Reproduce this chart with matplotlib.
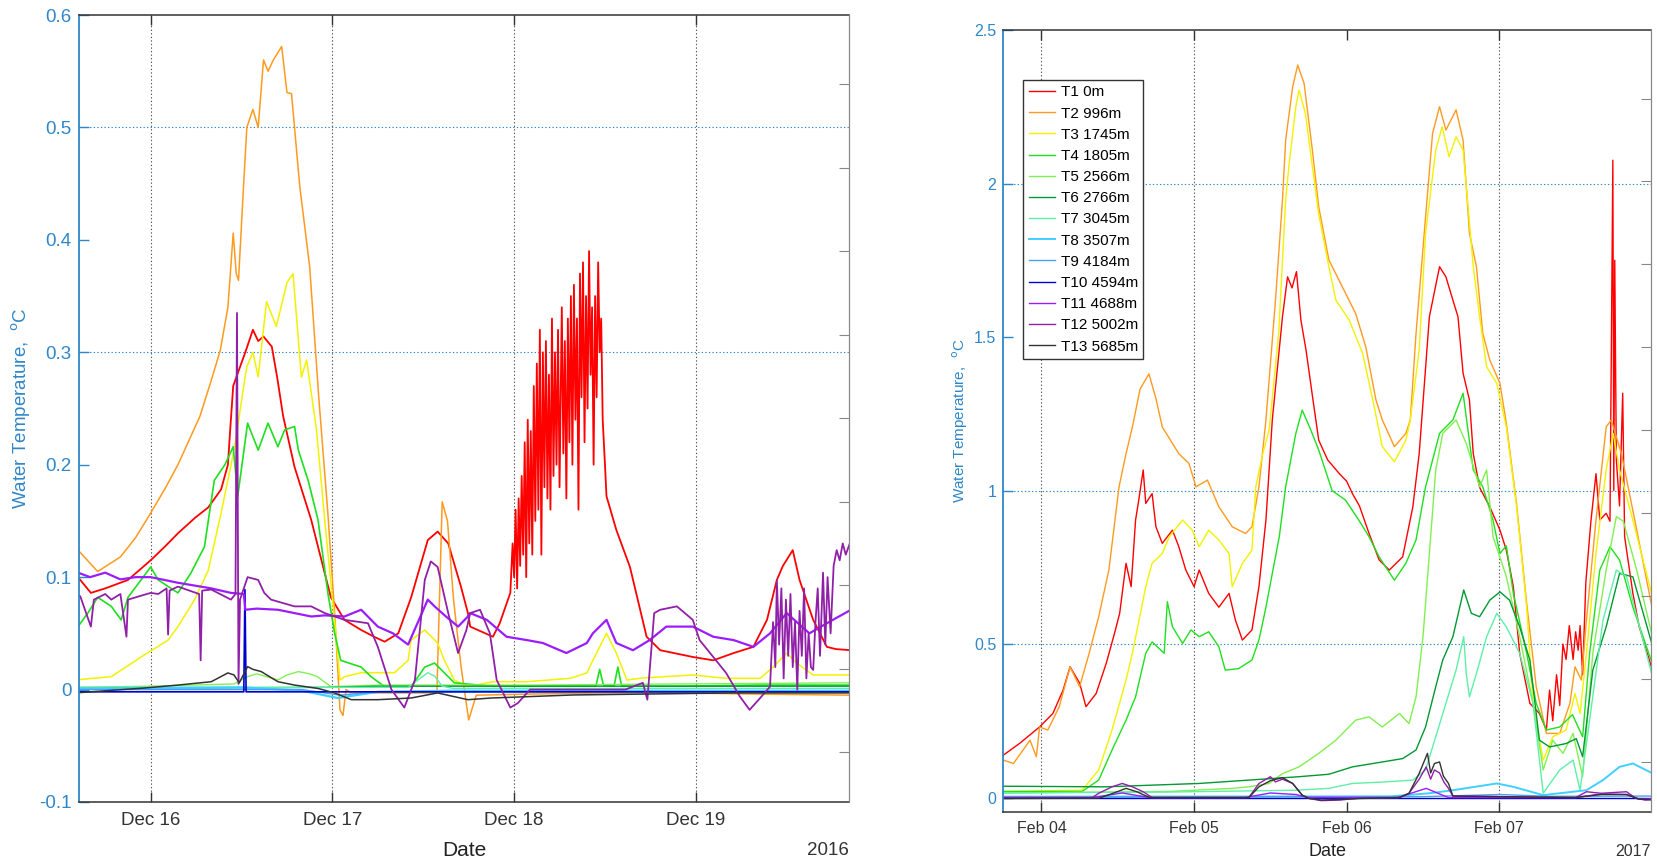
import numpy as np
import pandas as pd
import matplotlib
matplotlib.use("Agg")
import matplotlib.pyplot as plt
import matplotlib.dates as mdates

plt.rcParams['font.family'] = ['Liberation Sans', 'DejaVu Sans']

# ---------------- labels / colours ----------------
labels = ['T1 0m', 'T2 996m', 'T3 1745m', 'T4 1805m', 'T5 2566m', 'T6 2766m',
          'T7 3045m', 'T8 3507m', 'T9 4184m', 'T10 4594m', 'T11 4688m',
          'T12 5002m', 'T13 5685m']
colors = ['#ff0000', '#ff9a1f', '#f2f200', '#1ee01e', '#80f050', '#009933',
          '#5cf0a8', '#40d0ff', '#4aa0f0', '#0000cc', '#9b1cff', '#9020a8', '#333333']

# ---------------- Panel A: Dec 2016 (hours after 2016-12-16 00:00) ----------------
a_t1_h = [-10, -9.6, -7.9, -6, -3, 0, 2, 3.6, 5.9, 7.6, 9.3, 10.2, 10.5, 10.9, 11.8, 12.5, 13.5,
          14.2, 14.9, 16, 16.7, 17.5, 19, 21.2, 23.8, 25.6, 27.8, 29.5, 30.9, 32.7, 34.4, 36.6,
          37.9, 39.3, 41, 41.9, 42.2, 45.2, 46.1, 47.5,
          47.8, 48.0, 48.2, 48.4, 48.6, 48.8, 49.0, 49.2, 49.4, 49.6, 49.8, 50.0, 50.2, 50.4,
          50.6, 50.8, 51.0, 51.2, 51.4, 51.6, 51.8, 52.0, 52.2, 52.4, 52.6, 52.8, 53.0, 53.2,
          53.4, 53.6, 53.8, 54.0, 54.3, 54.5, 54.7, 54.9, 55.1, 55.3, 55.5, 55.7, 55.9, 56.1,
          56.3, 56.5, 56.7, 56.9, 57.1, 57.3, 57.5, 57.7, 57.9, 58.1, 58.3, 58.5, 58.7, 58.9,
          59.1, 59.3, 59.5, 59.7, 60.0, 60.2,
          61.5, 63.3, 65.5, 67.3, 71.6, 74.3, 77, 79.6, 81.4, 82.7, 83.5, 84.8, 85.7, 87.5,
          89.3, 90.5, 92.5]
a_t1_v = [0.10, 0.10, 0.086, 0.09, 0.0975, 0.115, 0.128, 0.139, 0.153, 0.162, 0.178, 0.20, 0.231,
          0.27, 0.287, 0.30, 0.32, 0.31, 0.314, 0.305, 0.278, 0.243, 0.198, 0.151, 0.082, 0.062,
          0.053, 0.047, 0.0426, 0.05, 0.082, 0.133, 0.1405, 0.13, 0.091, 0.068, 0.056, 0.047,
          0.059, 0.086,
          0.13, 0.10, 0.16, 0.09, 0.17, 0.11, 0.19, 0.12, 0.22, 0.10, 0.24, 0.13, 0.23, 0.12,
          0.27, 0.15, 0.29, 0.16, 0.32, 0.12, 0.30, 0.18, 0.31, 0.17, 0.28, 0.16, 0.33, 0.19,
          0.30, 0.20, 0.32, 0.18, 0.34, 0.21, 0.31, 0.17, 0.33, 0.22, 0.35, 0.20, 0.36, 0.24,
          0.33, 0.16, 0.37, 0.26, 0.38, 0.22, 0.35, 0.25, 0.39, 0.28, 0.34, 0.20, 0.35, 0.26,
          0.38, 0.30, 0.33, 0.24, 0.20, 0.172,
          0.142, 0.109, 0.047, 0.035, 0.029, 0.026, 0.0325, 0.038, 0.062, 0.0975, 0.11, 0.124,
          0.0975, 0.062, 0.038, 0.036, 0.035]

a_t2_h = [-10, -7, -4, -2, 0, 2, 3.6, 6.5, 8, 9.2, 10.2, 10.9, 11.3, 11.6, 12.2, 12.7, 13.5, 14.2,
          14.9, 15.5, 16.2, 17.3, 18, 18.6, 19.7, 21, 22.2, 23.4, 24.3, 25.0, 25.4, 25.8, 26.5,
          33, 37.8, 38.5, 39.2, 40, 41, 42, 43, 50, 60, 70, 80, 92.5]
a_t2_v = [0.127, 0.105, 0.118, 0.135, 0.157, 0.18, 0.20, 0.243, 0.275, 0.302, 0.34, 0.406, 0.37,
          0.364, 0.44, 0.50, 0.516, 0.50, 0.56, 0.55, 0.56, 0.572, 0.531, 0.53, 0.447, 0.376,
          0.26, 0.157, 0.068, -0.018, -0.023, 0.0, -0.003, -0.003, -0.003, 0.167, 0.15, 0.08,
          0.02, -0.027, -0.005, -0.004, -0.003, -0.003, -0.004, -0.005]

a_t3_h = [-10, -5.2, -0.8, 2.3, 3.6, 5.8, 7.6, 9.3, 11.1, 12.4, 12.7, 13.5, 14.2, 15.3, 16.6, 18,
          18.8, 19.9, 20.6, 21.9, 23, 24.3, 25, 25.6, 27.8, 32.2, 34, 34.4, 36.2, 37.9, 38.8,
          40.1, 41.9, 45.2, 49.7, 55.4, 57.6, 58.4, 60.2, 61.5, 62.9, 65, 71.6, 76, 80.5, 82.2,
          84, 85.3, 87.5, 92.5]
a_t3_v = [0.0085, 0.0115, 0.031, 0.044, 0.056, 0.08, 0.106, 0.157, 0.216, 0.275, 0.287, 0.30,
          0.278, 0.345, 0.323, 0.362, 0.37, 0.278, 0.293, 0.231, 0.15, 0.06, 0.0085, 0.0115,
          0.015, 0.015, 0.026, 0.044, 0.053, 0.0413, 0.026, 0.0085, 0.0026, 0.007, 0.007, 0.01,
          0.0148, 0.026, 0.05, 0.0325, 0.0085, 0.0103, 0.013, 0.01, 0.01, 0.02, 0.0325, 0.0236,
          0.013, 0.013]

a_t4_h = [-10, -9.6, -8.3, -7, -5.2, -3.9, -3, 0, 1, 3.6, 5.3, 7.1, 8.4, 9.8, 10.9, 11.5, 12.8,
          14.2, 15.5, 16.8, 17.7, 19, 19.5, 20.8, 22.1, 23.4, 24.3, 25.1, 27.8, 29.1, 30.9, 34.4,
          36.2, 37.5, 38.8, 40.1, 45, 58.8, 59.3, 59.8, 61.2, 61.7, 62.2, 70, 80, 92.5]
a_t4_v = [0.056, 0.056, 0.068, 0.082, 0.074, 0.062, 0.082, 0.109, 0.0975, 0.086, 0.1035, 0.127,
          0.186, 0.20, 0.216, 0.172, 0.237, 0.213, 0.237, 0.216, 0.231, 0.234, 0.213, 0.186,
          0.151, 0.086, 0.05, 0.026, 0.02, 0.0115, 0.0026, 0.0026, 0.02, 0.0236, 0.0148, 0.006,
          0.003, 0.003, 0.018, 0.004, 0.003, 0.02, 0.003, 0.003, 0.004, 0.004]

a_t5_h = [-10, 0, 11, 12.8, 14, 16.8, 18, 19.5, 21, 22, 23.8, 30, 50, 70, 92.5]
a_t5_v = [0.002, 0.003, 0.005, 0.0115, 0.014, 0.0085, 0.013, 0.016, 0.014, 0.0115, 0.0026, 0.004,
          0.004, 0.005, 0.006]
a_t6_h = [-10, 24, 30, 92.5]
a_t6_v = [0.001, 0.002, 0.003, 0.003]
a_t7_h = [-10, 20, 34, 36.6, 37.5, 38.5, 40, 92.5]
a_t7_v = [0.002, 0.002, 0.002, 0.015, 0.012, 0.003, 0.001, 0.001]
a_t8_h = [-10, 12, 20, 24.7, 30, 40, 92.5]
a_t8_v = [0.001, 0.002, -0.001, -0.0075, -0.002, -0.001, -0.001]
a_t9_h = [-10, 20, 25, 30, 92.5]
a_t9_v = [0.0, 0.0, -0.005, -0.002, -0.002]
a_t10_h = [-10, 12.3, 12.45, 12.6, 92.5]
a_t10_v = [-0.002, -0.002, 0.089, -0.002, -0.002]

a_t11_h = [-10, -8, -6, -4, -2, 0, 3.6, 8, 10.6, 12.3, 12.5, 14, 16.8, 19, 21.2, 23, 25.6, 27.8,
           30, 32, 34, 36.6, 37.5, 39, 40.6, 41.9, 42.2, 44.4, 47, 49.7, 51.8, 54.9, 57.6, 58.4,
           60.2, 61.5, 63.7, 65.9, 68.1, 71.6, 74.3, 77, 79.6, 81.8, 84, 87, 89.3, 92.5]
a_t11_v = [0.105, 0.10, 0.104, 0.098, 0.10, 0.10, 0.095, 0.09, 0.086, 0.085, 0.071, 0.072, 0.071,
           0.068, 0.065, 0.066, 0.065, 0.071, 0.056, 0.05, 0.04, 0.08, 0.074, 0.065, 0.056,
           0.065, 0.068, 0.062, 0.047, 0.044, 0.0414, 0.0325, 0.0414, 0.05, 0.062, 0.0414, 0.035,
           0.044, 0.056, 0.056, 0.047, 0.044, 0.038, 0.05, 0.068, 0.05, 0.059, 0.071]

a_t12_h = [-10, -9.3, -7.9, -7.5, -6, -5.2, -4, -3.2, -3, 0, 1, 2.1, 2.3, 2.5, 3.6, 6.4, 6.6,
           6.8, 8, 10.6, 11.2, 11.4, 11.6, 11.8, 12.8, 14.2, 15, 15.9, 19, 21.2, 23, 25.6, 28.7,
           30, 31.8, 33.5, 34.9, 36.2, 37, 37.9, 39.3, 40.6, 41.7, 42.2, 43.5, 44.8, 45.7, 47.5,
           48.5, 50.1, 55, 62.7, 65, 65.6, 66.5, 67.3, 69.5, 71.6, 72.5, 74.3, 76, 77.8, 79.1,
           80.3, 81.8, 82.2, 82.5, 82.7, 83.0, 83.3, 83.6, 83.9, 84.2, 84.5, 84.8, 85.1, 85.4,
           85.7, 86.0, 86.3, 86.6, 86.9, 87.2, 87.5, 87.8, 88.1, 88.4, 88.8, 89.1, 89.4, 89.8,
           90.2, 90.6, 91.0, 91.4, 91.8, 92.5]
a_t12_v = [0.085, 0.083, 0.056, 0.08, 0.085, 0.08, 0.085, 0.047, 0.08, 0.086, 0.085, 0.09, 0.049,
           0.088, 0.0916, 0.085, 0.026, 0.088, 0.089, 0.08, 0.085, 0.335, 0.005, 0.08, 0.10,
           0.0975, 0.086, 0.08, 0.074, 0.074, 0.068, 0.062, 0.059, 0.038, 0.0, -0.016, 0.0085,
           0.0975, 0.114, 0.109, 0.068, 0.0325, 0.053, 0.068, 0.071, 0.05, 0.0085, -0.016,
           -0.012, 0.0, 0.0, 0.0, 0.006, -0.009, 0.068, 0.071, 0.074, 0.062, 0.044, 0.029,
           0.0148, -0.006, -0.018, -0.009, 0.0026, 0.06, 0.02, 0.097, 0.04, 0.09, 0.01, 0.08,
           0.03, 0.085, 0.02, 0.06, 0.0, 0.07, 0.03, 0.09, 0.01, 0.05, 0.02, 0.0175, 0.06, 0.09,
           0.03, 0.104, 0.04, 0.10, 0.05, 0.11, 0.124, 0.115, 0.13, 0.12, 0.133]

a_t13_h = [-10, -0.8, 3.6, 8, 10.2, 11, 11.7, 12.8, 13.5, 14.6, 16.8, 19, 22.1, 24.3, 26.5, 30,
           34.4, 37.9, 41.9, 45, 55.8, 77, 92.5]
a_t13_v = [-0.003, 0.0014, 0.004, 0.007, 0.0148, 0.013, 0.006, 0.0204, 0.018, 0.016, 0.007,
           0.004, 0.001, -0.003, -0.009, -0.009, -0.0075, -0.003, -0.009, -0.0075, -0.0048,
           -0.003, -0.003]

# ---------------- Panel B: Feb 2017 (hours after 2017-02-04 00:00) ----------------
b_t1_h = [-6, -3.4, -0.3, 1.8, 3.4, 4.5, 6, 7, 8.6, 10.2, 11.5, 12.3, 13.3, 14.1, 14.8, 15.3, 16,
          16.4, 17.4, 18, 19, 20.6, 21.6, 22.7, 24, 24.8, 26.3, 27.9, 29.5, 30.5, 31.6, 33.1,
          34.2, 35.3, 36.3, 37.9, 38.7, 39.4, 40.1, 40.8, 41.6, 42.7, 43.6, 45, 46.8, 48, 48.9,
          50, 51.5, 53.1, 54.7, 56.8, 58.4, 59.4, 61, 62.6, 63.6, 64.7, 65.5, 66.3, 67.3, 67.9,
          68.9, 70.5, 72.1, 73.1, 74.2, 75.2, 76.8, 78.3, 79.4, 79.9, 80.4, 81, 81.5, 82, 82.5,
          83, 83.6, 84, 84.4, 84.7, 85.1, 85.6, 86.4, 87.2, 87.8, 88.8, 89.4, 89.85, 90.0,
          90.15, 90.4, 90.9, 91.4, 91.7, 93, 94, 96]
b_t1_v = [0.138, 0.177, 0.23, 0.274, 0.35, 0.426, 0.373, 0.296, 0.339, 0.438, 0.536, 0.60, 0.763,
          0.687, 0.904, 0.969, 1.067, 0.958, 0.99, 0.882, 0.828, 0.871, 0.817, 0.741, 0.687,
          0.741, 0.665, 0.62, 0.665, 0.578, 0.513, 0.546, 0.687, 0.904, 1.23, 1.566, 1.696,
          1.66, 1.713, 1.555, 1.458, 1.295, 1.164, 1.10, 1.056, 1.03, 0.99, 0.95, 0.861, 0.774,
          0.741, 0.784, 0.947, 1.12, 1.566, 1.729, 1.696, 1.62, 1.566, 1.382, 1.295, 1.12, 1.01,
          0.947, 0.871, 0.806, 0.687, 0.47, 0.307, 0.274, 0.22, 0.35, 0.25, 0.40, 0.30, 0.50,
          0.45, 0.56, 0.45, 0.54, 0.48, 0.56, 0.40, 0.70, 0.90, 1.055, 0.904, 0.926, 0.90,
          2.076, 1.0, 1.75, 1.1, 0.95, 1.317, 0.85, 0.665, 0.556, 0.42]

b_t2_h = [-6, -4.4, -1.8, -0.8, -0.3, 1, 2.8, 4.5, 6, 7.5, 9, 10.6, 12.2, 13.3, 14.3, 15.5, 16.9,
          18, 19, 21.6, 23.2, 24.3, 26.1, 27.9, 30, 32.1, 33.1, 34.2, 35.3, 36.8, 37.9, 38.4,
          39.5, 40.3, 41.3, 42.6, 43.6, 45.2, 47.3, 49.4, 51, 52.6, 53.6, 55.5, 57.3, 58, 58.9,
          60.4, 61.5, 62.6, 63.6, 65.2, 66.3, 67.3, 68.4, 69.4, 70.5, 72.1, 73.1, 74.7, 76.3,
          77.8, 79.4, 81.5, 83.1, 83.9, 84.9, 85.7, 87.2, 88.8, 89.6, 91.2, 93.3, 96]
b_t2_v = [0.122, 0.111, 0.187, 0.133, 0.23, 0.22, 0.296, 0.426, 0.361, 0.47, 0.589, 0.741, 1.012,
          1.12, 1.207, 1.33, 1.38, 1.30, 1.207, 1.12, 1.088, 1.012, 1.034, 0.947, 0.882, 0.86,
          0.882, 1.012, 1.23, 1.62, 1.946, 2.141, 2.315, 2.386, 2.326, 2.109, 1.924, 1.751,
          1.664, 1.577, 1.468, 1.295, 1.23, 1.143, 1.186, 1.23, 1.511, 1.891, 2.163, 2.25, 2.174,
          2.24, 2.141, 1.838, 1.729, 1.512, 1.425, 1.349, 1.219, 0.958, 0.633, 0.361, 0.209,
          0.209, 0.307, 0.426, 0.383, 0.578, 0.904, 1.207, 1.23, 1.12, 0.904, 0.62]

b_t3_h = [-6, 6.4, 9, 11.1, 13.3, 14.3, 16.4, 17.4, 19, 20.1, 22.2, 23.7, 24.8, 26.3, 27.9, 29.5,
          30, 31.6, 33.1, 33.7, 34.8, 35.8, 37.3, 38.4, 38.9, 40, 40.5, 41.5, 42.6, 43.6, 45.2,
          46.3, 48.4, 50.5, 52.1, 53.6, 55.5, 57.3, 58, 59.4, 60.4, 62, 63, 64.1, 65.2, 66.3, 67,
          67.9, 68.9, 70, 71.6, 73.1, 74.7, 76.3, 77.3, 78.9, 80.4, 82.5, 83.9, 84.7, 85.7, 87.2,
          88.8, 89.9, 90.9, 93, 96]
b_t3_v = [0.02, 0.024, 0.09, 0.22, 0.383, 0.47, 0.687, 0.763, 0.795, 0.85, 0.904, 0.871, 0.817,
          0.871, 0.839, 0.795, 0.687, 0.763, 0.806, 1.012, 1.12, 1.197, 1.512, 1.946, 2.055,
          2.25, 2.305, 2.229, 2.055, 1.90, 1.729, 1.62, 1.555, 1.447, 1.295, 1.143, 1.094, 1.164,
          1.23, 1.458, 1.838, 2.109, 2.185, 2.087, 2.152, 2.109, 1.946, 1.729, 1.566, 1.403,
          1.349, 1.207, 0.95, 0.62, 0.307, 0.122, 0.198, 0.22, 0.339, 0.274, 0.47, 0.795, 1.067,
          1.186, 1.067, 0.904, 0.66]

b_t4_h = [-6, 6.4, 9, 11.1, 13.3, 14.8, 16.4, 17.4, 19.3, 19.8, 20.6, 22.2, 23.5, 24.8, 26.3,
          27.9, 28.9, 31, 33.1, 34.2, 35.3, 36.3, 37.4, 38.4, 40, 41, 42.3, 43.6, 45.7, 47.8,
          49.9, 51.5, 53.1, 55.5, 57.3, 58.9, 60.4, 62.6, 64.7, 66.3, 67.9, 69.4, 71, 72.1, 73.1,
          74.2, 76.3, 77.8, 79.4, 81.5, 83.5, 85.1, 86.2, 87.8, 89.4, 90.9, 93, 96]
b_t4_v = [0.02, 0.02, 0.057, 0.155, 0.252, 0.328, 0.47, 0.507, 0.47, 0.638, 0.556, 0.502, 0.546,
          0.524, 0.54, 0.491, 0.415, 0.42, 0.448, 0.513, 0.62, 0.73, 0.85, 1.012, 1.186, 1.262,
          1.20, 1.132, 1.0, 0.969, 0.904, 0.85, 0.784, 0.708, 0.763, 0.839, 1.012, 1.186, 1.23,
          1.317, 1.067, 1.012, 0.904, 0.795, 0.82, 0.665, 0.47, 0.307, 0.22, 0.23, 0.27, 0.198,
          0.47, 0.741, 0.817, 0.774, 0.62, 0.44]

b_t5_h = [-6, 20, 30, 32.6, 35.8, 37.9, 40.5, 43.6, 46.3, 49.4, 51.5, 53.6, 56.3, 57.8, 58.9, 60,
          61, 62, 63.1, 65.2, 66.8, 68.9, 70, 71, 73.1, 75.2, 77.3, 78.9, 80.4, 82, 83.6, 85.1,
          86.7, 88.8, 90.4, 91.5, 93.6, 96]
b_t5_v = [0.015, 0.02, 0.03, 0.035, 0.046, 0.078, 0.10, 0.144, 0.187, 0.252, 0.263, 0.23, 0.274,
          0.241, 0.328, 0.524, 0.795, 1.067, 1.186, 1.23, 1.153, 1.012, 1.067, 0.85, 0.72,
          0.524, 0.307, 0.09, 0.187, 0.144, 0.209, 0.068, 0.47, 0.741, 0.915, 0.90, 0.741, 0.53]

b_t6_h = [-6, 10, 24.8, 40.5, 45.2, 48.9, 53.6, 56.8, 58.9, 60.4, 62, 63.1, 64.7, 66.4, 67.6,
          68.9, 70.5, 72.1, 73.6, 75.2, 76.8, 78.3, 79.9, 82.5, 84.1, 85.1, 86.7, 88.8, 90.9,
          93, 96]
b_t6_v = [0.037, 0.035, 0.046, 0.068, 0.076, 0.10, 0.116, 0.127, 0.155, 0.23, 0.361, 0.448,
          0.524, 0.676, 0.60, 0.589, 0.643, 0.67, 0.643, 0.556, 0.448, 0.187, 0.165, 0.176,
          0.192, 0.133, 0.415, 0.556, 0.73, 0.719, 0.50]

b_t7_h = [-6, 20, 40, 45.2, 48.9, 54.1, 58.4, 60.4, 62, 63.6, 65.2, 66.4, 66.8, 67.3, 68.4, 70,
          71.6, 73.1, 75.2, 77.3, 78.9, 81.5, 83.6, 84.7, 86.2, 88.3, 90.4, 92, 96]
b_t7_v = [0.015, 0.018, 0.024, 0.03, 0.046, 0.051, 0.057, 0.09, 0.198, 0.307, 0.415, 0.524,
          0.404, 0.328, 0.404, 0.524, 0.60, 0.556, 0.47, 0.307, 0.014, 0.09, 0.122, 0.024,
          0.252, 0.578, 0.741, 0.72, 0.40]

b_t8_h = [-6, 55, 61, 64.7, 71.6, 74.2, 78.9, 85.7, 88.3, 90.9, 93, 96]
b_t8_v = [0.003, 0.004, 0.014, 0.024, 0.046, 0.035, 0.008, 0.024, 0.057, 0.10, 0.111, 0.08]
b_t9_h = [-6, 60, 72, 80, 96]
b_t9_v = [0.002, 0.003, 0.01, 0.004, 0.005]
b_t10_h = [-6, 96]
b_t10_v = [0.0, 0.0]
b_t11_h = [-6, 8, 12.7, 17, 32, 36, 40, 42, 56, 60.5, 64, 84, 88, 92, 94, 96]
b_t11_v = [0.0, 0.0, 0.015, 0.0, 0.0, 0.015, 0.01, 0.0, 0.0, 0.03, 0.0, 0.0, 0.012, 0.01,
           -0.005, -0.004]
b_t12_h = [-6, 8, 9, 11.1, 12.7, 14.3, 16, 17.4, 32.6, 34.2, 36, 36.8, 37.9, 39.5, 41, 42.1, 44,
           47, 50, 56.3, 57.8, 59.4, 60.5, 61.2, 61.8, 62.6, 63.3, 64, 64.7, 84, 85.7, 88, 92,
           93.5, 95, 96]
b_t12_v = [0.0, 0.0, 0.014, 0.035, 0.046, 0.035, 0.019, 0.0, 0.0, 0.046, 0.068, 0.051, 0.06,
           0.046, 0.008, -0.003, -0.01, -0.008, -0.002, 0.0, 0.014, 0.06, 0.10, 0.06, 0.09,
           0.08, 0.05, 0.03, 0.005, 0.0, 0.019, 0.014, 0.019, -0.003, -0.008, -0.005]
b_t13_h = [-6, 9, 11, 13.3, 15, 17, 32.6, 34.2, 36, 37.9, 39.5, 41, 42.1, 44, 47, 50, 56.3, 57.8,
           59.4, 60.7, 61.2, 61.8, 62.6, 63.2, 64, 64.7, 84, 88, 92, 94, 96]
b_t13_v = [-0.003, -0.002, 0.012, 0.03, 0.019, 0.0, 0.0, 0.035, 0.055, 0.065, 0.046, 0.008,
           -0.003, -0.008, -0.006, -0.003, 0.0, 0.014, 0.079, 0.144, 0.08, 0.111, 0.116, 0.07,
           0.046, 0.005, 0.0, 0.01, 0.01, -0.005, -0.008]

a_series = [(a_t1_h, a_t1_v), (a_t2_h, a_t2_v), (a_t3_h, a_t3_v), (a_t4_h, a_t4_v),
            (a_t5_h, a_t5_v), (a_t6_h, a_t6_v), (a_t7_h, a_t7_v), (a_t8_h, a_t8_v),
            (a_t9_h, a_t9_v), (a_t10_h, a_t10_v), (a_t11_h, a_t11_v), (a_t12_h, a_t12_v),
            (a_t13_h, a_t13_v)]
b_series = [(b_t1_h, b_t1_v), (b_t2_h, b_t2_v), (b_t3_h, b_t3_v), (b_t4_h, b_t4_v),
            (b_t5_h, b_t5_v), (b_t6_h, b_t6_v), (b_t7_h, b_t7_v), (b_t8_h, b_t8_v),
            (b_t9_h, b_t9_v), (b_t10_h, b_t10_v), (b_t11_h, b_t11_v), (b_t12_h, b_t12_v),
            (b_t13_h, b_t13_v)]

a_base = pd.Timestamp('2016-12-16 00:00')
b_base = pd.Timestamp('2017-02-04 00:00')
a_ticks = ['2016-12-16', '2016-12-17', '2016-12-18', '2016-12-19']
b_ticks = ['2017-02-04', '2017-02-05', '2017-02-06', '2017-02-07']
a_yticks = [-0.1, 0, 0.1, 0.2, 0.3, 0.4, 0.5, 0.6]
a_yticklabels = ['-0.1', '0', '0.1', '0.2', '0.3', '0.4', '0.5', '0.6']
b_yticks = [0, 0.5, 1, 1.5, 2, 2.5]
b_yticklabels = ['0', '0.5', '1', '1.5', '2', '2.5']

BLUE = '#2f86c8'
DARK = '#333333'


def to_time(base, h):
    return base + pd.to_timedelta(np.asarray(h, dtype=float), unit='h')


def style_axes(ax, base, xlim_h, ylim, yticks, yticklabels, ticks, fs, year,
               vgrid, hgrid, ylabel_x, date_y, fs_label):
    ax.set_xlim(to_time(base, [xlim_h[0]])[0], to_time(base, [xlim_h[1]])[0])
    ax.set_ylim(*ylim)
    ax.set_yticks(yticks)
    ax.set_yticklabels(yticklabels)
    ax.set_xticks([pd.Timestamp(t) for t in ticks])
    ax.xaxis.set_major_formatter(mdates.DateFormatter('%b %d'))
    ax.tick_params(axis='y', direction='in', length=7, width=1, colors=BLUE,
                   labelsize=fs, pad=5, right=False)
    ax.tick_params(axis='x', direction='in', length=7, width=1, color=DARK,
                   labelcolor=DARK, labelsize=fs, pad=7, top=True)
    for t in vgrid:
        ax.axvline(pd.Timestamp(t), color='#555555', lw=0.8, ls=(0, (1.2, 2.0)), zorder=0.5)
    for y in hgrid:
        ax.axhline(y, color=BLUE, lw=0.8, ls=(0, (1.2, 2.0)), zorder=0.5)
    ax.spines['left'].set_color(BLUE)
    ax.spines['left'].set_linewidth(1.3)
    for s in ('top', 'bottom'):
        ax.spines[s].set_color(DARK)
        ax.spines[s].set_linewidth(1.1)
    ax.spines['right'].set_color('#888888')
    ax.set_ylabel('Water Temperature,  $^{\\mathrm{o}}$C', color=BLUE, fontsize=fs_label)
    ax.yaxis.label.set_verticalalignment('center')
    ax.yaxis.set_label_coords(ylabel_x, 0.5)
    ax.text(0.5, date_y, 'Date', transform=ax.transAxes, ha='center', va='center',
            fontsize=fs + 1.5, color='#222222')
    ax.text(1.0, date_y, year, transform=ax.transAxes, ha='right', va='center',
            fontsize=fs, color=DARK)
    # secondary (unlabelled) right axis ticks
    ax2 = ax.twinx()
    ax2.set_ylim(0, 1)
    ax2.set_yticks(0.0635 + 0.1061 * np.arange(9))
    ax2.tick_params(axis='y', direction='in', length=7, color='#888888', labelright=False)
    for s in ('left', 'top', 'bottom'):
        ax2.spines[s].set_visible(False)
    ax2.spines['right'].set_color('#888888')


fig = plt.figure(figsize=(16.58, 8.61), dpi=100)
axA = fig.add_axes([78.6 / 1658, 1 - 802 / 861, (849.3 - 78.6) / 1658, 787 / 861])
axB = fig.add_axes([1003.3 / 1658, 1 - 811.7 / 861, (1651 - 1003.3) / 1658, 781.7 / 861])

a_lw = [1.3, 1.1, 1.1, 1.2, 1.0, 1.0, 1.0, 1.6, 1.0, 1.2, 1.6, 1.3, 1.1]
b_lw = [1.0, 1.0, 1.0, 1.0, 1.0, 1.0, 1.0, 1.4, 1.0, 1.0, 1.0, 1.0, 1.0]

for (h, v), c, lw in zip(a_series, colors, a_lw):
    axA.plot(to_time(a_base, h), v, color=c, lw=lw)

handles = []
for (h, v), c, lw, lab in zip(b_series, colors, b_lw, labels):
    ln, = axB.plot(to_time(b_base, h), v, color=c, lw=lw, label=lab)
    handles.append(ln)

style_axes(axA, a_base, (-9.52, 92.27), (-0.1, 0.6), a_yticks, a_yticklabels, a_ticks, 13.5,
           '2016', a_ticks, [0.3, 0.5], -0.074, -0.061, 13.5)
style_axes(axB, b_base, (-6.0, 95.85), (-0.046, 2.5), b_yticks, b_yticklabels, b_ticks, 11.5,
           '2017', [b_ticks[0], b_ticks[1], b_ticks[3]], [0, 0.5, 1, 2], -0.067, -0.051, 11)

leg = axB.legend(handles=handles, loc='upper left', bbox_to_anchor=(0.031, 0.936),
                 borderaxespad=0, fontsize=11, labelspacing=0.47, handlelength=1.75,
                 handletextpad=0.35, borderpad=0.35, fancybox=False, framealpha=1,
                 edgecolor='#333333')
leg.get_frame().set_linewidth(1.0)
leg.set_zorder(10)

fig.savefig('out.png', dpi=100)
